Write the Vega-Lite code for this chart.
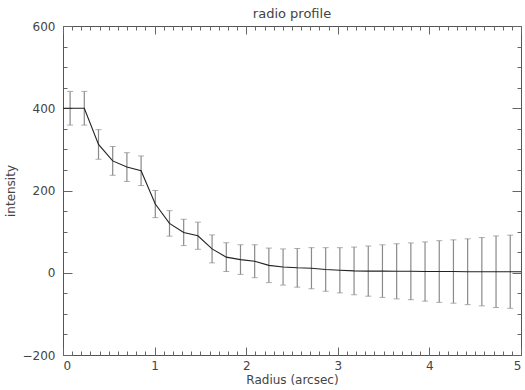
{
  "$schema": "https://vega.github.io/schema/vega-lite/v6.json",
  "width": 458,
  "height": 329,
  "autosize": {"type": "none"},
  "padding": {"left": 63, "top": 26, "right": 4, "bottom": 35},
  "title": {"text": "radio profile", "offset": -1, "fontSize": 13, "fontWeight": "normal", "color": "#444", "font": "DejaVu Sans"},
  "datasets": {
    "profile": [
      {"r": 0.0775, "v": 400, "err": 41},
      {"r": 0.2325, "v": 400, "err": 41},
      {"r": 0.3875, "v": 312, "err": 36},
      {"r": 0.5425, "v": 272, "err": 35},
      {"r": 0.6975, "v": 257, "err": 35},
      {"r": 0.8525, "v": 248, "err": 36},
      {"r": 1.0075, "v": 167, "err": 33},
      {"r": 1.1625, "v": 120, "err": 31},
      {"r": 1.3175, "v": 98, "err": 32},
      {"r": 1.4725, "v": 90, "err": 33},
      {"r": 1.6275, "v": 58, "err": 34},
      {"r": 1.7825, "v": 38, "err": 35},
      {"r": 1.9375, "v": 32, "err": 36},
      {"r": 2.0925, "v": 28, "err": 40},
      {"r": 2.2475, "v": 18, "err": 42},
      {"r": 2.4025, "v": 14, "err": 44},
      {"r": 2.5575, "v": 12, "err": 47},
      {"r": 2.7125, "v": 11, "err": 50},
      {"r": 2.8675, "v": 8, "err": 53},
      {"r": 3.0225, "v": 6, "err": 55},
      {"r": 3.1775, "v": 4.5, "err": 58},
      {"r": 3.3325, "v": 4, "err": 61},
      {"r": 3.4875, "v": 4, "err": 64},
      {"r": 3.6425, "v": 3.5, "err": 67},
      {"r": 3.7975, "v": 3.5, "err": 69},
      {"r": 3.9525, "v": 3, "err": 72},
      {"r": 4.1075, "v": 3, "err": 75},
      {"r": 4.2625, "v": 3, "err": 77},
      {"r": 4.4175, "v": 2.5, "err": 80},
      {"r": 4.5725, "v": 2.5, "err": 83},
      {"r": 4.7275, "v": 2.5, "err": 87},
      {"r": 4.8825, "v": 2.5, "err": 89}
    ],
    "curve": [
      {"r": 0, "v": 400},
      {"r": 0.0775, "v": 400},
      {"r": 0.2325, "v": 400},
      {"r": 0.3875, "v": 312},
      {"r": 0.5425, "v": 272},
      {"r": 0.6975, "v": 257},
      {"r": 0.8525, "v": 248},
      {"r": 1.0075, "v": 167},
      {"r": 1.1625, "v": 120},
      {"r": 1.3175, "v": 98},
      {"r": 1.4725, "v": 90},
      {"r": 1.6275, "v": 58},
      {"r": 1.7825, "v": 38},
      {"r": 1.9375, "v": 32},
      {"r": 2.0925, "v": 28},
      {"r": 2.2475, "v": 18},
      {"r": 2.4025, "v": 14},
      {"r": 2.5575, "v": 12},
      {"r": 2.7125, "v": 11},
      {"r": 2.8675, "v": 8},
      {"r": 3.0225, "v": 6},
      {"r": 3.1775, "v": 4.5},
      {"r": 3.3325, "v": 4},
      {"r": 3.4875, "v": 4},
      {"r": 3.6425, "v": 3.5},
      {"r": 3.7975, "v": 3.5},
      {"r": 3.9525, "v": 3},
      {"r": 4.1075, "v": 3},
      {"r": 4.2625, "v": 3},
      {"r": 4.4175, "v": 2.5},
      {"r": 4.5725, "v": 2.5},
      {"r": 4.7275, "v": 2.5},
      {"r": 4.8825, "v": 2.5},
      {"r": 5, "v": 2.5}
    ]
  },
  "resolve": {"axis": {"x": "independent", "y": "independent"}},
  "layer": [
    {
      "data": {"name": "profile"},
      "mark": {"type": "errorbar", "ticks": {"size": 6, "color": "#8a8a8a"}, "rule": {"color": "#8a8a8a", "strokeWidth": 1.2}},
      "encoding": {
        "x": {"field": "r", "type": "quantitative", "scale": {"domain": [0, 5], "nice": false, "zero": false},
              "axis": {"orient": "bottom", "values": [0, 1, 2, 3, 4, 5], "ticks": false, "labelPadding": 5, "title": "Radius (arcsec)", "titlePadding": 3, "format": "d"}},
        "y": {"field": "v", "type": "quantitative", "scale": {"domain": [-200, 600], "nice": false, "zero": false},
              "axis": {"orient": "left", "values": [-200, 0, 200, 400, 600], "ticks": false, "labelPadding": 8, "title": "intensity", "titlePadding": 5, "format": "d"}},
        "yError": {"field": "err"}
      }
    },
    {
      "data": {"name": "curve"},
      "mark": {"type": "line", "color": "#222", "strokeWidth": 1.1},
      "encoding": {
        "x": {"field": "r", "type": "quantitative", "scale": {"domain": [0, 5], "nice": false, "zero": false},
              "axis": {"orient": "bottom", "values": [0, 1, 2, 3, 4, 5], "tickSize": -8, "labels": false, "title": null}},
        "y": {"field": "v", "type": "quantitative", "scale": {"domain": [-200, 600], "nice": false, "zero": false},
              "axis": {"orient": "left", "values": [-200, 0, 200, 400, 600], "tickSize": -9, "labels": false, "title": null}}
      }
    },
    {
      "data": {"name": "curve"},
      "mark": {"type": "point", "opacity": 0},
      "encoding": {
        "x": {"field": "r", "type": "quantitative", "scale": {"domain": [0, 5], "nice": false, "zero": false},
              "axis": {"orient": "bottom", "values": [0.1,0.2,0.3,0.4,0.5,0.6,0.7,0.8,0.9,1.1,1.2,1.3,1.4,1.5,1.6,1.7,1.8,1.9,2.1,2.2,2.3,2.4,2.5,2.6,2.7,2.8,2.9,3.1,3.2,3.3,3.4,3.5,3.6,3.7,3.8,3.9,4.1,4.2,4.3,4.4,4.5,4.6,4.7,4.8,4.9], "tickSize": -4, "labels": false, "title": null}},
        "y": {"field": "v", "type": "quantitative", "scale": {"domain": [-200, 600], "nice": false, "zero": false},
              "axis": {"orient": "left", "values": [-150, -100, -50, 50, 100, 150, 250, 300, 350, 450, 500, 550], "tickSize": -4, "labels": false, "title": null}}
      }
    },
    {
      "data": {"name": "curve"},
      "mark": {"type": "point", "opacity": 0},
      "encoding": {
        "x": {"field": "r", "type": "quantitative", "scale": {"domain": [0, 5], "nice": false, "zero": false},
              "axis": {"orient": "top", "values": [0, 1, 2, 3, 4, 5], "tickSize": -8, "labels": false, "title": null}},
        "y": {"field": "v", "type": "quantitative", "scale": {"domain": [-200, 600], "nice": false, "zero": false},
              "axis": {"orient": "right", "values": [-200, 0, 200, 400, 600], "tickSize": -9, "labels": false, "title": null}}
      }
    },
    {
      "data": {"name": "curve"},
      "mark": {"type": "point", "opacity": 0},
      "encoding": {
        "x": {"field": "r", "type": "quantitative", "scale": {"domain": [0, 5], "nice": false, "zero": false},
              "axis": {"orient": "top", "values": [0.1,0.2,0.3,0.4,0.5,0.6,0.7,0.8,0.9,1.1,1.2,1.3,1.4,1.5,1.6,1.7,1.8,1.9,2.1,2.2,2.3,2.4,2.5,2.6,2.7,2.8,2.9,3.1,3.2,3.3,3.4,3.5,3.6,3.7,3.8,3.9,4.1,4.2,4.3,4.4,4.5,4.6,4.7,4.8,4.9], "tickSize": -4, "labels": false, "title": null}},
        "y": {"field": "v", "type": "quantitative", "scale": {"domain": [-200, 600], "nice": false, "zero": false},
              "axis": {"orient": "right", "values": [-150, -100, -50, 50, 100, 150, 250, 300, 350, 450, 500, 550], "tickSize": -4, "labels": false, "title": null}}
      }
    }
  ],
  "config": {
    "font": "DejaVu Sans",
    "view": {"stroke": "#555", "strokeWidth": 1},
    "axis": {
      "grid": false,
      "domain": false,
      "labelFont": "DejaVu Sans",
      "labelFontSize": 12,
      "labelColor": "#444",
      "titleFont": "DejaVu Sans",
      "titleFontSize": 12,
      "titleFontWeight": "normal",
      "titleColor": "#444",
      "tickColor": "#666",
      "tickWidth": 1
    }
  }
}
